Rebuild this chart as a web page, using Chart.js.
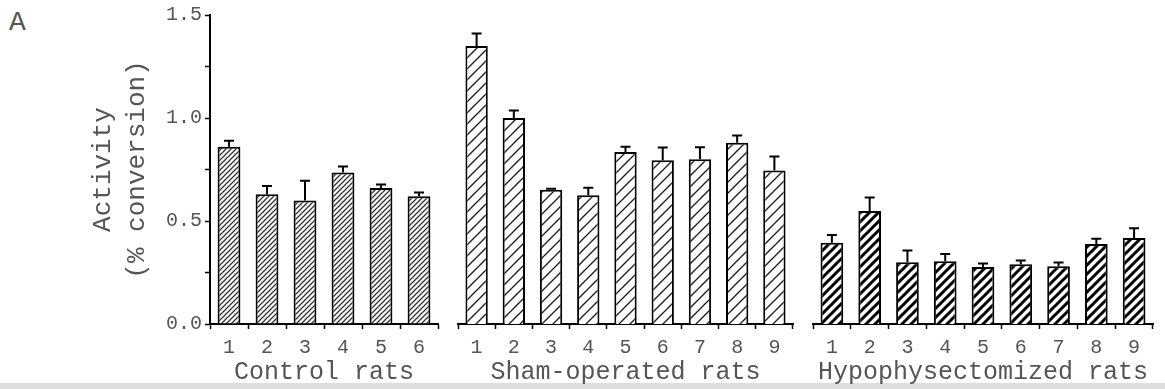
<!DOCTYPE html>
<html>
<head>
<meta charset="utf-8">
<script src="https://cdn.jsdelivr.net/npm/chart.js@4/dist/chart.umd.min.js"></script>
<style>
  html, body { margin: 0; padding: 0; background: #fff; }
  #wrap { position: relative; width: 1165px; height: 389px; overflow: hidden; background: #fff; }
  #wrap canvas { position: absolute; top: 0; }
  #panel { position: absolute; left: 9px; top: 7px; font: 28px "Liberation Mono", monospace; color: #555; }
  #strip { position: absolute; left: 0; bottom: 0; width: 1165px; height: 6px; background: #dedede; }
</style>
</head>
<body>
<div id="wrap">
  <div id="strip"></div>
  <div id="panel">A</div>
  <canvas id="cControl" width="448" height="389" style="left:0px"></canvas>
  <canvas id="cSham" width="355" height="389" style="left:448px"></canvas>
  <canvas id="cHypo" width="362" height="389" style="left:803px"></canvas>
</div>
<script>
// Enzyme activity (% conversion), mean and SEM per animal
const controlLabels = ['1', '2', '3', '4', '5', '6'];
const controlMeans  = [0.86, 0.63, 0.60, 0.735, 0.66, 0.62];
const controlErrors = [0.03, 0.04, 0.095, 0.03, 0.017, 0.018];

const shamLabels = ['1', '2', '3', '4', '5', '6', '7', '8', '9'];
const shamMeans  = [1.35, 1.00, 0.652, 0.625, 0.835, 0.795, 0.80, 0.88, 0.745];
const shamErrors = [0.06, 0.037, 0.005, 0.037, 0.026, 0.062, 0.058, 0.035, 0.068];

const hypoLabels = ['1', '2', '3', '4', '5', '6', '7', '8', '9'];
const hypoMeans  = [0.395, 0.548, 0.30, 0.305, 0.277, 0.29, 0.28, 0.388, 0.418];
const hypoErrors = [0.037, 0.066, 0.057, 0.035, 0.017, 0.018, 0.018, 0.026, 0.047];

const yTicks = { min: 0, max: 1.5, step: 0.25 };
const groupTitles = ['Control rats', 'Sham-operated rats', 'Hypophysectomized rats'];

const MONO = '"Liberation Mono", "DejaVu Sans Mono", monospace';
const TEXT = '#555';

// diagonal hatch fill
function hatch(period, width, color) {
  const c = document.createElement('canvas');
  c.width = period; c.height = period;
  const g = c.getContext('2d');
  g.fillStyle = '#fff';
  g.fillRect(0, 0, period, period);
  g.strokeStyle = color;
  g.lineWidth = width;
  g.lineCap = 'square';
  g.beginPath();
  g.moveTo(0, period); g.lineTo(period, 0);
  g.moveTo(-period, period); g.lineTo(period, -period);
  g.moveTo(0, 2 * period); g.lineTo(2 * period, 0);
  g.stroke();
  return g.createPattern(c, 'repeat');
}

// capped error bars above each bar
const errorBars = {
  id: 'errorBars',
  afterDatasetsDraw(chart, args, opts) {
    const errs = opts.errors || [];
    const meta = chart.getDatasetMeta(0);
    const yScale = chart.scales.y;
    const ctx = chart.ctx;
    const values = chart.data.datasets[0].data;
    ctx.save();
    ctx.strokeStyle = '#000';
    ctx.lineWidth = 2;
    meta.data.forEach((bar, i) => {
      const e = errs[i];
      if (!e) return;
      const yTop = yScale.getPixelForValue(values[i] + e);
      const x = bar.x;
      ctx.beginPath();
      ctx.moveTo(x, bar.y);
      ctx.lineTo(x, yTop);
      ctx.moveTo(x - 5, yTop);
      ctx.lineTo(x + 5, yTop);
      ctx.stroke();
    });
    ctx.restore();
  }
};

function makeChart(id, labels, values, errors, fill, title, withY, pad) {
  const yScale = {
    display: withY,
    min: yTicks.min,
    max: yTicks.max,
    afterFit(scale) { if (withY) scale.width = 210; },
    ticks: {
      stepSize: yTicks.step,
      color: TEXT,
      padding: 3,
      font: { family: MONO, size: 20 },
      callback(v) {
        return Math.abs(v * 2 - Math.round(v * 2)) < 1e-6 ? v.toFixed(1) : '';
      }
    },
    grid: { drawOnChartArea: false, tickLength: 5, tickColor: '#000', tickWidth: 1.5 },
    border: { display: withY, color: '#000', width: 2 },
    title: {
      display: withY,
      text: ['Activity', '(% conversion)'],
      color: TEXT,
      font: { family: MONO, size: 26, lineHeight: 34 / 26 },
      padding: { top: 86, bottom: 0 }
    }
  };
  return new Chart(document.getElementById(id), {
    type: 'bar',
    data: {
      labels: labels,
      datasets: [{
        data: values,
        backgroundColor: fill,
        borderColor: '#000',
        borderWidth: 2,
        borderSkipped: 'start',
        categoryPercentage: 1,
        barPercentage: 0.6
      }]
    },
    options: {
      responsive: false,
      devicePixelRatio: 1,
      animation: false,
      events: [],
      layout: { padding: { top: 15, left: pad[0], right: pad[1], bottom: 0 } },
      plugins: {
        legend: { display: false },
        tooltip: { enabled: false },
        errorBars: { errors: errors }
      },
      scales: {
        x: {
          offset: true,
          ticks: { color: TEXT, padding: 8.5, font: { family: MONO, size: 20, lineHeight: 1 } },
          grid: { offset: true, drawOnChartArea: false, tickLength: 5, tickColor: '#000', tickWidth: 1.5 },
          border: { color: '#000', width: 2 },
          title: {
            display: true,
            text: title,
            color: TEXT,
            font: { family: MONO, size: 25, lineHeight: 13 / 25 },
            padding: { top: 0, bottom: 10 }
          }
        },
        y: yScale
      }
    },
    plugins: [errorBars]
  });
}

makeChart('cControl', controlLabels, controlMeans, controlErrors,
  hatch(5, 1.3, '#333'), groupTitles[0], true, [0, 10]);
makeChart('cSham', shamLabels, shamMeans, shamErrors,
  hatch(11, 1.4, '#222'), groupTitles[1], false, [10, 10]);
makeChart('cHypo', hypoLabels, hypoMeans, hypoErrors,
  hatch(9, 3, '#000'), groupTitles[2], false, [10, 12]);
</script>
</body>
</html>
